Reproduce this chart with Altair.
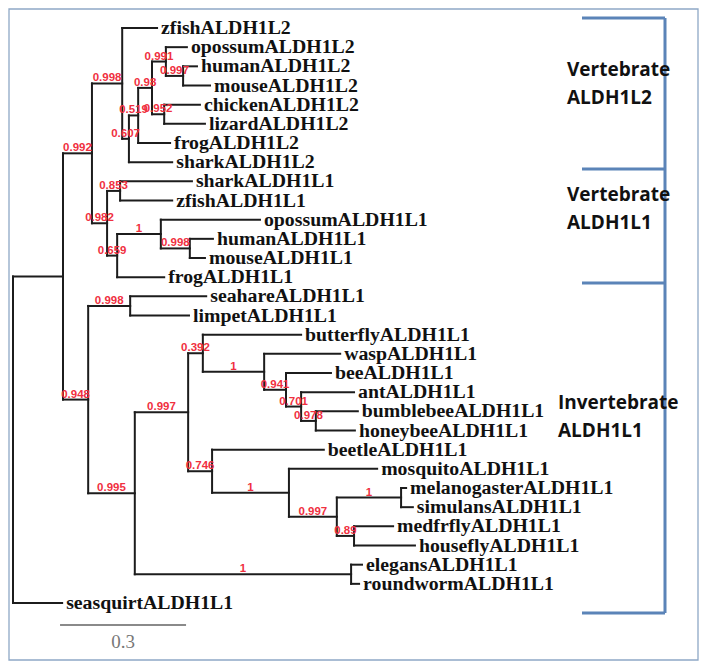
import altair as alt
import pandas as pd

# ---------------- data ----------------
tip_order = [
    "zfishALDH1L2", "opossumALDH1L2", "humanALDH1L2", "mouseALDH1L2",
    "chickenALDH1L2", "lizardALDH1L2", "frogALDH1L2", "sharkALDH1L2",
    "sharkALDH1L1", "zfishALDH1L1", "opossumALDH1L1", "humanALDH1L1",
    "mouseALDH1L1", "frogALDH1L1", "seahareALDH1L1", "limpetALDH1L1",
    "butterflyALDH1L1", "waspALDH1L1", "beeALDH1L1", "antALDH1L1",
    "bumblebeeALDH1L1", "honeybeeALDH1L1", "beetleALDH1L1", "mosquitoALDH1L1",
    "melanogasterALDH1L1", "simulansALDH1L1", "medfrflyALDH1L1", "houseflyALDH1L1",
    "elegansALDH1L1", "roundwormALDH1L1", "seasquirtALDH1L1",
]

node_ids = [
    "n_ingroup", "seasquirtALDH1L1", "n_vert", "n_invert", "n_L2", "n_L1",
    "zfishALDH1L2", "n_B", "n_C", "sharkALDH1L2", "n_D", "frogALDH1L2",
    "n_E", "n_F", "opossumALDH1L2", "n_G", "humanALDH1L2", "mouseALDH1L2",
    "chickenALDH1L2", "lizardALDH1L2", "n_J", "n_K", "sharkALDH1L1", "zfishALDH1L1",
    "n_Lm", "frogALDH1L1", "opossumALDH1L1", "n_M2", "humanALDH1L1", "mouseALDH1L1",
    "n_O", "n_P", "seahareALDH1L1", "limpetALDH1L1", "n_Q", "n_W",
    "n_R", "n_S", "butterflyALDH1L1", "n_T", "waspALDH1L1", "n_U",
    "beeALDH1L1", "n_V", "antALDH1L1", "n_X2", "bumblebeeALDH1L1", "honeybeeALDH1L1",
    "beetleALDH1L1", "n_X", "mosquitoALDH1L1", "n_Y", "n_Z", "n_AA",
    "melanogasterALDH1L1", "simulansALDH1L1", "medfrflyALDH1L1", "houseflyALDH1L1",
    "elegansALDH1L1", "roundwormALDH1L1",
]
parent_ids = [
    "root", "root", "n_ingroup", "n_ingroup", "n_vert", "n_vert",
    "n_L2", "n_L2", "n_B", "n_B", "n_C", "n_C",
    "n_D", "n_D", "n_E", "n_E", "n_G", "n_G",
    "n_F", "n_F", "n_L1", "n_L1", "n_J", "n_J",
    "n_K", "n_K", "n_Lm", "n_Lm", "n_M2", "n_M2",
    "n_invert", "n_invert", "n_O", "n_O", "n_P", "n_P",
    "n_Q", "n_Q", "n_R", "n_R", "n_T", "n_T",
    "n_U", "n_U", "n_V", "n_V", "n_X2", "n_X2",
    "n_S", "n_S", "n_X", "n_X", "n_Y", "n_Y",
    "n_Z", "n_Z", "n_AA", "n_AA",
    "n_W", "n_W",
]
branch_lengths = [
    0.119, 0.117, 0.069, 0.060, 0.072, 0.036,
    0.083, 0.016, 0.022, 0.103, 0.033, 0.076,
    0.033, 0.029, 0.050, 0.041, 0.033, 0.064,
    0.085, 0.097, 0.031, 0.024, 0.171, 0.124,
    0.104, 0.112, 0.236, 0.069, 0.055, 0.036,
    0.100, 0.111, 0.181, 0.140, 0.127, 0.515,
    0.035, 0.057, 0.234, 0.146, 0.181, 0.052,
    0.107, 0.036, 0.126, 0.035, 0.100, 0.093,
    0.266, 0.183, 0.210, 0.114, 0.153, 0.041,
    0.012, 0.028, 0.093, 0.145,
    0.026, 0.019,
]
support_labels = [
    "", "", "0.992", "0.948", "0.998", "0.982",
    "", "0.607", "0.519", "", "0.98", "",
    "0.991", "0.952", "", "0.997", "", "",
    "", "", "0.853", "0.659", "", "",
    "1", "", "", "0.998", "", "",
    "0.998", "0.995", "", "", "0.997", "1",
    "0.392", "0.746", "", "1", "", "0.941",
    "", "0.701", "", "0.978", "", "",
    "", "1", "", "0.997", "1", "0.89",
    "", "", "", "",
    "", "",
]

scale_bar_length = 0.3
group_names = [["Vertebrate", "ALDH1L2"], ["Vertebrate", "ALDH1L1"], ["Invertebrate", "ALDH1L1"]]

# ---------------- tree layout ----------------
parent_of = dict(zip(node_ids, parent_ids))
length_of = dict(zip(node_ids, branch_lengths))
children = {}
for n, p in zip(node_ids, parent_ids):
    children.setdefault(p, []).append(n)

depth = {"root": 0.0}
def get_depth(n):
    if n not in depth:
        depth[n] = get_depth(parent_of[n]) + length_of[n]
    return depth[n]
for n in node_ids:
    get_depth(n)

ypos = {t: i for i, t in enumerate(tip_order)}
def get_y(n):
    if n not in ypos:
        ys_ = [get_y(c) for c in children[n]]
        ypos[n] = (min(ys_) + max(ys_)) / 2
    return ypos[n]
get_y("root")

segs = []
for n, p in zip(node_ids, parent_ids):
    segs.append({"x": depth[p], "x2": depth[n], "y": ypos[n], "y2": ypos[n]})
for p, ch in children.items():
    yy = [ypos[c] for c in ch]
    segs.append({"x": depth[p], "x2": depth[p], "y": min(yy), "y2": max(yy)})
seg_df = pd.DataFrame(segs)

tips_df = pd.DataFrame({"label": tip_order,
                        "x": [depth[t] for t in tip_order],
                        "y": [ypos[t] for t in tip_order]})

sup_rows = []
for n, p, s in zip(node_ids, parent_ids, support_labels):
    if s:
        sup_rows.append({"label": s, "x": (depth[p] + depth[n]) / 2, "y": ypos[n]})
sup_df = pd.DataFrame(sup_rows)

# ---------------- scales ----------------
W, H = 698, 654
px_per_unit = 420.0
root_px = 5.0
tip_px0, tip_step = 20.0, 19.167
xs = alt.Scale(domain=[-root_px / px_per_unit, (W - root_px) / px_per_unit], nice=False, zero=False)
ys = alt.Scale(domain=[-tip_px0 / tip_step, (H - tip_px0) / tip_step], reverse=True, nice=False, zero=False)

tree = alt.Chart(seg_df).mark_rule(color="#1c1c1c", strokeWidth=2, strokeCap="square").encode(
    x=alt.X("x:Q", scale=xs, axis=None), x2="x2:Q",
    y=alt.Y("y:Q", scale=ys, axis=None), y2="y2:Q",
)

tip_text = alt.Chart(tips_df).mark_text(
    align="left", baseline="middle", dx=4, dy=0,
    font="Liberation Serif", fontWeight="bold", fontSize=19.8, color="#111111",
).encode(
    x=alt.X("x:Q", scale=xs, axis=None), y=alt.Y("y:Q", scale=ys, axis=None), text="label:N"
)

sup_text = alt.Chart(sup_df).mark_text(
    align="center", baseline="middle", dy=-5,
    font="Liberation Sans", fontWeight="bold", fontSize=11.5, color="#f0303f",
).encode(
    x=alt.X("x:Q", scale=xs, axis=None), y=alt.Y("y:Q", scale=ys, axis=None), text="label:N"
)

# scale bar
bar_df = pd.DataFrame({"x": [0.112], "x2": [0.112 + scale_bar_length], "y": [31.15],
                       "tx": [0.112 + scale_bar_length / 2], "ty": [32.03], "label": [str(scale_bar_length)]})
bar = alt.Chart(bar_df).mark_rule(color="#8a8a8a", strokeWidth=2).encode(
    x=alt.X("x:Q", scale=xs, axis=None), x2="x2:Q", y=alt.Y("y:Q", scale=ys, axis=None)
)
bar_text = alt.Chart(bar_df).mark_text(
    align="center", baseline="middle", font="Liberation Serif", fontSize=19, color="#777777"
).encode(x=alt.X("tx:Q", scale=xs, axis=None), y=alt.Y("ty:Q", scale=ys, axis=None), text="label:N")

# frame
frame_df = pd.DataFrame({"px": [1], "px2": [690], "py": [1], "py2": [652]})
frame = alt.Chart(frame_df).mark_rect(fillOpacity=0, stroke="#8ea8c6", strokeWidth=1.3).encode(
    x=alt.X("px:Q", scale=None, axis=None), x2="px2:Q",
    y=alt.Y("py:Q", scale=None, axis=None), y2="py2:Q",
)

# group brackets
br_rows = [{"px": 657, "px2": 657, "py": 10, "py2": 605}]
for yy in [10, 161, 275, 605]:
    br_rows.append({"px": 574, "px2": 657, "py": yy, "py2": yy})
br_df = pd.DataFrame(br_rows)
brackets = alt.Chart(br_df).mark_rule(color="#5b84b8", strokeWidth=3).encode(
    x=alt.X("px:Q", scale=None, axis=None), x2="px2:Q",
    y=alt.Y("py:Q", scale=None, axis=None), y2="py2:Q",
)

grp_rows = []
for (l1, l2), gx, gy in zip(group_names, [559, 559, 550], [62, 187, 395]):
    grp_rows.append({"label": l1, "px": gx, "py": gy})
    grp_rows.append({"label": l2, "px": gx, "py": gy + 28})
grp_df = pd.DataFrame(grp_rows)
groups = alt.Chart(grp_df).mark_text(
    align="left", baseline="middle", font="Open Sans", fontWeight="bold", fontSize=19, color="#111111"
).encode(
    x=alt.X("px:Q", scale=None, axis=None), y=alt.Y("py:Q", scale=None, axis=None), text="label:N"
)

chart = alt.layer(frame, brackets, groups, tree, tip_text, sup_text, bar, bar_text).properties(
    width=W, height=H, padding=0, autosize="none"
).configure_view(stroke=None)

chart.save("out.html", embed_options={"renderer": "svg", "actions": False})
